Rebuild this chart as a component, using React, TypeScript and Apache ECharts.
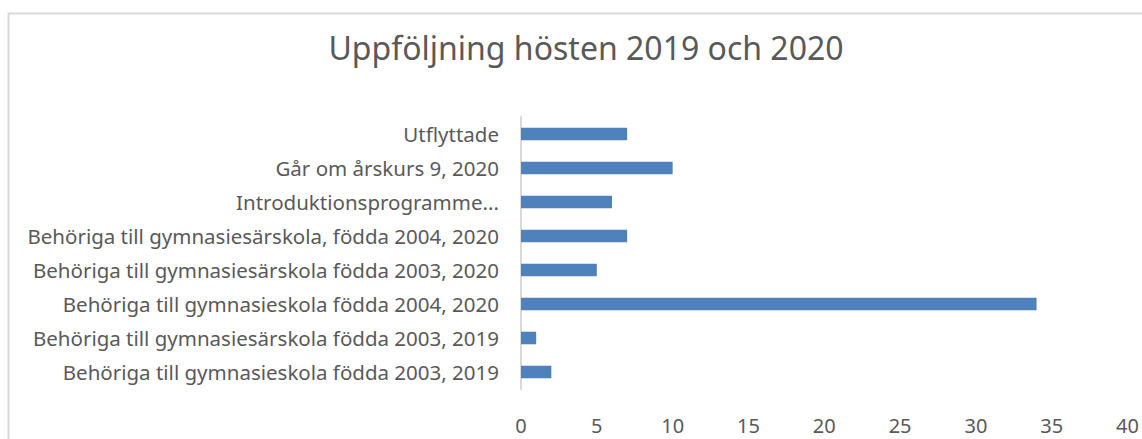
import React, { useEffect, useRef } from "react";
import * as echarts from "echarts";

const categories = [
  "Utflyttade",
  "Går om årskurs 9, 2020",
  "Introduktionsprogramme...",
  "Behöriga till gymnasiesärskola, födda 2004, 2020",
  "Behöriga till gymnasiesärskola födda 2003, 2020",
  "Behöriga till gymnasieskola födda 2004, 2020",
  "Behöriga till gymnasiesärskola födda 2003, 2019",
  "Behöriga till gymnasieskola födda 2003, 2019",
];
const values = [7, 10, 6, 7, 5, 34, 1, 2];
const title = "Uppföljning hösten 2019 och 2020";

export default function App() {
  const ref = useRef<HTMLDivElement>(null);
  useEffect(() => {
    if (!ref.current) return;
    const chart = echarts.init(ref.current, null, { renderer: "svg" });
    chart.setOption({
      animation: false,
      backgroundColor: "#ffffff",
      textStyle: { fontFamily: "Noto Sans" },
      title: {
        text: title,
        left: 581,
        textAlign: "center",
        top: 26,
        textStyle: { fontSize: 32, fontWeight: "normal", color: "#595959", fontFamily: "Noto Sans" },
      },
      graphic: [
        {
          type: "rect",
          shape: { x: 8.5, y: 13.5, width: 1200, height: 500 },
          style: { fill: "none", stroke: "#d9d9d9", lineWidth: 2 },
          silent: true,
        },
      ],
      grid: { left: 521, right: 14, top: 117, bottom: 50, containLabel: false },
      xAxis: {
        type: "value",
        min: 0,
        max: 40,
        interval: 5,
        axisLine: { show: false },
        axisTick: { show: false },
        splitLine: { show: false },
        axisLabel: { color: "#595959", fontSize: 20, margin: 26, fontFamily: "Noto Sans" },
      },
      yAxis: {
        type: "category",
        data: categories,
        inverse: true,
        axisLine: { show: true, lineStyle: { color: "#d9d9d9", width: 2 } },
        axisTick: { show: false },
        axisLabel: { color: "#595959", fontSize: 20.5, margin: 22, fontFamily: "Noto Sans", padding: [3, 0, 0, 0] },
      },
      series: [
        {
          type: "bar",
          data: values,
          barCategoryGap: "63%",
          itemStyle: { color: "#4f81bd" },
        },
      ],
    });
    return () => chart.dispose();
  }, []);
  return (
    <div
      ref={ref}
      style={{ position: "fixed", left: 0, top: 0, width: 1142, height: 439 }}
    />
  );
}
